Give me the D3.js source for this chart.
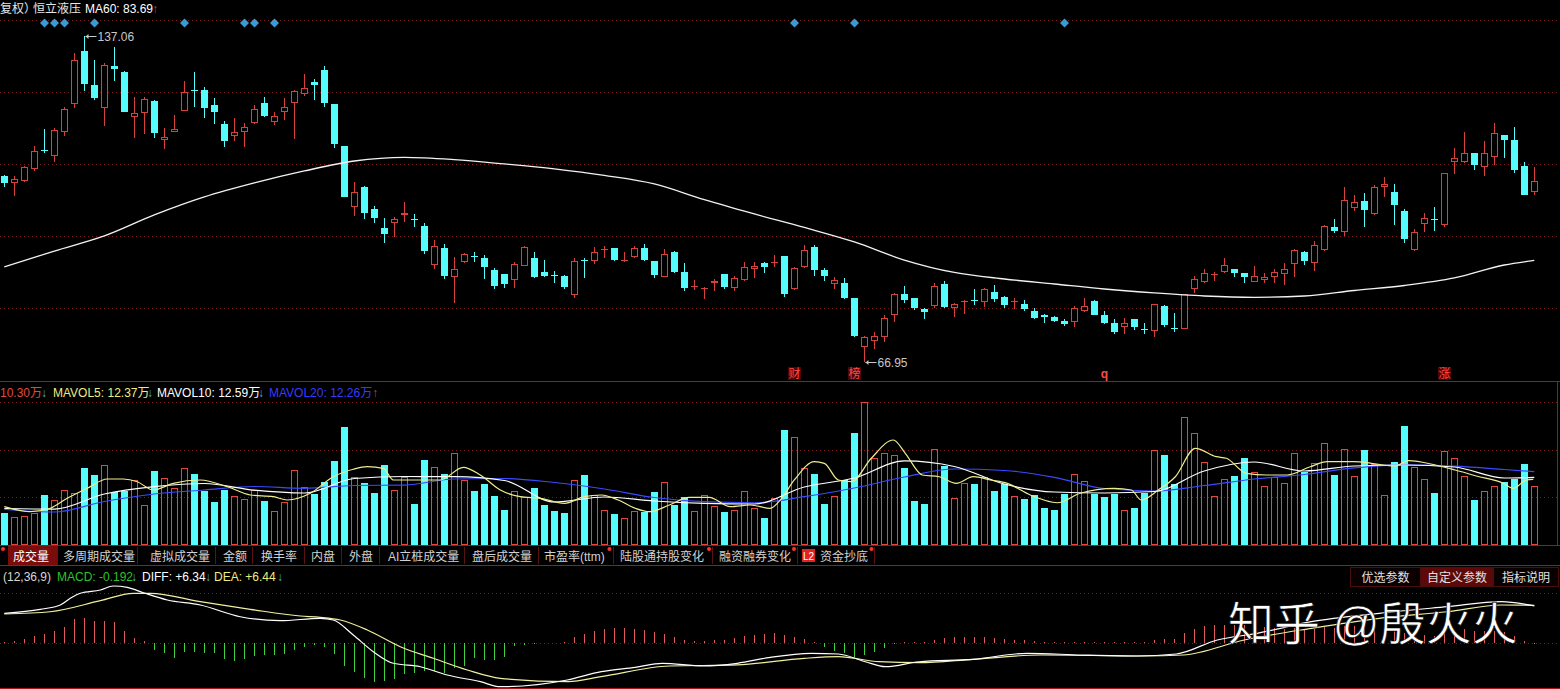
<!DOCTYPE html>
<html><head><meta charset="utf-8">
<script src="https://cdn.jsdelivr.net/npm/d3@7"></script>
<style>
html,body{margin:0;padding:0;background:#000;overflow:hidden;}
svg{display:block;}
text{font-family:"Liberation Sans","Noto Sans CJK SC",sans-serif;}
</style></head><body>
<script>
// ---------------- DATA ----------------
const openP = [100.77,99.29,99.73,102.40,106.75,105.36,111.07,117.97,132.62,123.08,
116.93,128.41,126.65,114.64,115.65,118.90,109.05,110.92,116.31,121.80,
121.72,117.70,112.96,110.10,110.92,113.14,118.21,113.53,116.06,118.21,
120.58,123.81,127.20,117.97,107.63,94.19,98.43,93.71,89.82,90.81,
92.55,91.72,90.28,82.86,85.95,80.76,83.46,84.45,84.09,81.95,
81.18,80.17,82.73,84.09,81.54,81.00,80.89,77.58,83.80,83.64,
85.70,85.95,83.64,84.27,85.95,83.59,80.76,85.20,81.54,79.15,
78.70,79.59,81.18,78.83,80.17,82.08,83.17,83.40,84.51,78.55,
82.55,86.26,81.95,79.42,79.59,77.01,69.24,70.16,70.69,74.24,
77.75,77.01,75.18,75.77,79.47,75.34,76.50,76.72,76.43,78.14,
77.18,76.52,76.05,74.90,74.24,73.86,73.26,73.06,74.94,76.55,
74.24,72.90,72.26,73.53,72.02,71.67,75.72,72.18,71.99,78.55,
79.77,81.15,81.65,82.08,81.36,79.87,80.17,80.65,81.23,83.04,
85.20,83.28,85.63,90.01,89.15,93.98,95.43,92.63,98.43,97.22,
93.30,85.63,90.61,91.65,90.48,103.98,103.98,105.92,102.71,104.99,
110.27,109.05,103.01,97.22];
const highP = [100.9,100.77,103.01,107.63,111.65,111.90,117.34,131.96,137.06,130.02,
129.26,133.71,126.92,119.79,119.79,119.08,111.90,115.22,124.16,126.56,
122.45,119.53,113.70,114.38,113.14,117.78,119.79,116.06,119.53,121.60,
126.09,124.62,128.33,118.00,107.70,99.51,98.58,94.33,91.82,92.14,
95.23,92.69,90.81,87.54,86.72,84.27,85.01,85.31,84.70,82.37,
81.20,83.46,86.39,85.20,83.77,81.77,81.06,84.09,84.09,86.26,
86.45,85.95,85.20,86.39,86.78,83.64,85.82,85.44,83.17,80.17,
79.00,80.35,81.20,80.94,83.46,83.35,83.46,84.70,84.55,82.55,
86.58,86.58,82.26,80.65,80.47,77.05,70.94,71.46,74.24,77.97,
79.12,77.11,75.34,79.59,80.05,76.27,76.72,78.60,78.73,79.30,
77.40,77.11,76.72,75.34,74.35,74.12,73.58,75.72,77.01,76.72,
74.94,73.53,73.70,73.58,72.90,76.05,75.89,74.52,77.75,80.89,
82.08,81.54,84.09,82.10,81.40,82.73,81.36,82.08,83.17,85.76,
85.50,87.40,90.48,91.67,98.30,96.64,97.00,98.80,100.63,99.01,
93.71,89.68,92.84,94.06,101.40,107.08,110.92,105.95,108.81,113.14,
110.30,112.30,103.85,102.85];
const lowP = [98.30,96.50,99.51,101.95,105.92,103.98,110.10,116.93,121.54,119.08,
112.54,124.24,115.90,109.46,110.51,109.46,106.92,110.87,116.20,117.34,
114.53,112.89,107.46,108.88,107.46,113.00,114.64,112.72,113.95,109.29,
120.14,119.08,117.34,107.09,96.20,92.34,91.67,90.81,87.02,88.18,
91.13,90.01,84.83,82.13,80.30,76.17,83.28,83.35,80.30,78.55,
78.83,78.83,82.70,80.58,80.76,79.59,78.60,77.01,80.58,83.04,
84.09,83.50,83.46,84.09,83.64,80.47,80.65,81.50,78.26,78.43,
76.89,78.26,78.55,78.26,80.05,80.58,81.36,82.44,77.18,78.43,
82.37,80.89,79.99,78.60,76.89,70.80,66.95,68.85,70.01,73.15,
76.17,75.06,73.58,75.44,75.34,73.86,74.35,75.89,75.61,76.43,
75.34,75.18,74.94,73.58,72.90,73.06,72.51,72.35,74.68,74.20,
72.78,71.16,71.21,71.83,71.21,70.78,72.35,71.46,71.95,77.87,
79.59,79.99,81.36,80.76,79.70,79.85,79.70,79.70,79.30,80.76,
82.86,81.82,85.44,88.96,88.31,93.36,90.14,92.49,96.16,90.48,
87.02,85.50,89.15,89.34,90.14,101.15,103.62,102.10,100.83,103.24,
104.90,101.50,96.60,96.64];
const closeP = [99.29,100.04,102.85,106.45,106.68,111.48,116.75,130.02,123.26,119.69,
128.61,127.39,116.06,115.65,119.34,110.68,109.86,111.73,121.11,121.72,
117.08,116.06,108.88,111.07,112.30,116.75,114.97,115.04,117.18,121.54,
122.18,123.08,118.38,108.10,96.28,97.22,92.95,91.94,88.70,91.67,
92.95,91.67,85.50,86.45,80.94,82.08,84.89,84.39,82.55,79.18,
79.47,83.04,86.14,80.76,80.94,80.94,79.00,83.59,83.77,85.20,
85.76,83.77,83.70,85.95,83.77,81.06,84.89,81.54,78.83,79.18,
78.73,79.99,79.00,80.58,82.44,82.68,82.55,83.46,77.75,82.31,
85.63,81.95,80.94,80.17,77.11,70.89,70.69,70.89,73.70,77.75,
76.72,75.34,74.68,79.12,75.51,76.01,76.55,76.68,78.60,76.89,
75.89,76.55,75.23,73.80,73.86,73.31,72.74,75.34,75.72,74.24,
72.99,71.56,72.99,72.26,71.98,76.01,72.63,72.15,77.70,80.35,
81.36,81.18,82.90,81.46,80.76,80.94,80.65,81.54,82.08,85.63,
83.64,86.58,90.28,89.34,95.58,95.10,93.50,98.30,99.01,94.54,
87.73,89.03,91.82,91.61,101.37,104.90,105.92,103.24,105.92,110.68,
109.05,102.10,96.64,99.66];
// volume in 万 shares
const volume = [5.53,4.94,5.06,5.53,8.73,7.86,9.60,9.03,13.50,12.22,
13.97,9.31,9.48,11.35,6.98,12.92,11.65,9.90,13.39,12.40,
9.48,7.56,9.60,8.56,8.03,9.60,7.73,5.94,7.46,13.09,
10.07,8.90,11.05,14.67,20.65,11.82,10.88,9.13,13.97,9.60,
11.92,7.16,14.84,13.56,12.34,16.01,11.35,9.43,10.65,8.56,
6.11,9.43,8.33,10.00,6.98,5.94,5.59,11.35,12.22,8.73,
6.11,5.41,4.66,5.94,5.81,9.25,11.00,6.98,8.33,5.94,
8.68,6.81,5.76,6.11,9.43,6.51,4.71,8.15,20.08,18.80,
13.44,12.40,7.16,8.56,11.35,19.61,24.91,15.14,16.01,15.66,
13.44,7.73,7.16,16.71,13.79,8.15,10.77,10.65,11.92,9.48,
10.60,8.56,8.08,8.78,6.46,6.11,8.85,12.34,11.17,8.85,
8.43,8.85,6.11,6.46,9.03,16.59,15.71,10.65,22.29,19.50,
14.49,8.56,11.47,12.05,15.19,12.74,10.30,11.82,10.77,16.01,
12.74,14.26,17.75,12.22,16.71,12.05,16.59,14.14,8.68,14.49,
20.78,13.56,11.47,9.08,16.41,15.14,12.05,7.86,9.43,10.30,
11.00,11.47,14.14,10.30];
// MACD histogram
const macdHist = [0.17,0.29,0.57,1.15,1.5,2.07,2.76,4.09,4.19,3.74,
3.79,3.62,2.07,0.86,0.29,-1.26,-1.72,-2.71,-1.55,-1.55,
-1.84,-1.84,-2.88,-3.10,-2.88,-2.29,-2.12,-2.12,-1.95,-1.26,
-0.69,-0.40,-0.81,-1.95,-4.02,-5.0,-6.16,-6.72,-6.55,-6.33,
-5.47,-5.17,-4.88,-4.83,-5.17,-4.43,-4.02,-2.71,-2.98,-2.98,
-2.41,-0.6,-0.35,-0.2,-0.1,-0.05,0.05,0.9,1.5,2.0,
2.4,2.5,2.5,2.4,2.2,1.8,1.5,1.0,0.5,0.3,
0.3,0.4,0.5,0.8,1.2,1.4,1.5,1.6,1.3,1.0,
0.6,0.1,-0.8,-1.4,-1.8,-2.4,-2.2,-1.6,-0.9,-0.2,
0.1,0.1,0.05,0.4,0.8,0.9,0.9,1.0,0.9,0.8,
0.7,0.5,0.4,0.3,0.2,0.1,0.05,0.1,0.2,0.2,
0.1,0.05,0.05,0.05,0.05,0.5,0.6,0.6,1.6,2.4,
2.8,3.0,3.1,3.1,3.0,2.9,2.7,2.5,2.4,2.5,
2.4,2.4,2.7,2.6,2.9,2.8,2.5,2.6,2.5,2.2,
1.6,1.3,1.3,1.2,1.8,2.1,2.3,2.1,2.0,2.1,
1.9,1.2,0.3,-0.19];
// indicator lines sampled at these candle indices
const lineIdx = [0,5,10,15,20,25,30,35,40,45,50,55,60,65,70,75,80,85,90,95,100,105,110,115,120,125,130,135,140,145,150,153];
const ma60 = [82.50,85.44,88.32,92.49,96.22,99.23,101.88,104.14,104.99,104.46,103.46,102.33,100.88,99.01,95.64,92.69,89.98,87.16,83.77,81.51,80.35,79.47,78.60,77.92,77.40,77.18,77.40,78.34,79.21,80.53,82.86,83.69];
const mavol10 = [6.37,6.28,8.90,10.18,10.74,9.57,9.08,11.61,11.96,11.92,11.26,7.51,8.38,7.68,7.28,7.16,10.13,11.70,14.67,13.70,10.65,9.25,9.08,9.34,12.92,14.49,12.92,13.79,13.97,13.62,11.70,11.82];
const mavol20 = [6.20,5.76,7.59,8.90,9.60,10.21,9.90,10.39,10.47,11.52,11.61,10.91,9.78,8.29,7.56,7.38,8.43,9.95,11.87,13.27,13.01,11.82,9.86,9.43,10.39,11.52,12.31,13.48,14.00,13.76,13.18,12.80];
// MAVOL5 read at its own (candle-position) samples
const mavol5Idx = [0,2.6,4.6,6.3,8.3,10.3,11.9,13.3,14.9,16.9,19.6,22.3,24.6,26.9,28.3,30.6,32.9,34.9,36.3,37.9,38.9,41.6,43.6,45.9,47.6,49.6,51.6,53.6,56,58,59.7,61.4,63.1,64.5,66.5,68.5,70.5,72.6,74.6,76.6,77.6,79,81,82,83.4,84.7,86.7,88.9,90.1,91.8,93.5,95.2,96.9,98.6,100.3,102.6,105.3,107.6,111,112.7,113.7,115.4,117.1,119.1,121.2,122.2,124.2,126.2,128.3,130.6,132.3,135,136.7,139.1,140.4,143.1,145.1,147.2,149.9,150.9,152.2,152.9];
const mavol5 = [6.69,5.81,6.41,8.15,9.90,11.52,11.52,11.05,9.60,10.77,11.35,10.18,8.73,8.43,7.86,9.03,11.92,13.22,13.67,13.39,11.35,11.35,11.35,13.56,12.22,9.60,8.43,8.15,7.28,8.43,8.73,7.86,6.41,5.81,6.98,8.33,8.33,6.69,6.98,6.41,7.86,11.35,14.54,14.26,11.35,11.05,15.14,18.33,16.01,12.22,11.92,10.77,11.92,11.35,10.77,8.73,7.38,9.03,9.90,9.60,7.86,9.60,11.92,16.88,15.42,15.14,12.52,12.22,12.22,13.67,14.54,14.54,14.26,13.79,14.72,13.97,13.09,12.05,10.77,9.90,11.35,11.47];
// MACD DIFF / DEA read at candle positions
const diffIdx = [0,3.6,5.6,6.6,7.6,9.6,10.9,12.3,13.9,16.3,19.6,23.6,27.6,31.6,32.9,34.9,36.9,38.9,41.6,44.3,47.6,49.6,56.3,59.7,63.1,65.8,69.9,73.3,76.6,80.7,83.4,86.1,88.1,91.5,96.9,102.3,107.7,113.2,117.2,121.3,125.3,130.7,137.5,144.3,149.7,153];
const diffLine = [5.07,5.76,6.50,7.66,8.52,9.09,9.78,9.55,8.62,7.36,6.50,4.48,3.79,4.21,3.91,1.33,-1.55,-3.55,-4.14,-5.57,-6.72,-7.59,-6.43,-5.00,-4.24,-3.55,-4.02,-3.55,-2.52,-1.83,-1.95,-3.28,-4.14,-3.28,-2.86,-1.83,-2.12,-2.29,-1.95,0.47,1.62,3.62,5.07,6.21,7.07,6.34];
const deaIdx = [0,4.6,9.6,12.9,14.6,19.6,24.6,29.6,31.6,33.6,36.3,39.6,42.9,46.3,49.6,56.4,59.7,66.5,73.3,80,83.4,87.5,91.5,96.9,103.7,113.8,117.9,124,130.7,137.5,144.3,149.7,153];
const deaLine = [4.95,5.34,7.24,8.52,8.52,7.07,5.76,4.60,4.38,3.91,2.19,-0.69,-2.69,-4.71,-6.14,-6.72,-5.86,-4.02,-3.84,-2.69,-2.41,-3.28,-3.45,-2.86,-2.12,-2.29,-2.12,0.47,2.48,4.21,5.34,6.50,6.44];
// grid levels
const priceGrid = [141.97,121.19,103.45,88.31,75.39];
const volGrid = [8.3,16.6,24.9];
const macdGrid = [8.57,0];
// markers
const diamondIdx = [4,5,6,9,18,24,25,27,79,85,106];
const eventLabels = [{i:79,t:"财"},{i:85,t:"榜"},{i:110,t:"q"},{i:144,t:"涨"}];
const tabNames = ["成交量","多周期成交量","虚拟成交量","金额","换手率","内盘","外盘","AI立桩成交量","盘后成交量","市盈率(ttm)","陆股通持股变化","融资融券变化","资金抄底"];
const buttonNames = ["优选参数","自定义参数","指标说明"];

// ---------------- DRAW ----------------
const W=1560,H=689;
const RED="#d8403a", VRED="#e8443c", CYAN="#54fcfc", GRID="#7a1a1a", BORDER="#a4161a";
const svg=d3.select("body").append("svg").attr("width",W).attr("height",H).style("background","#000");
const n=openP.length;
const x=d3.scaleLinear().domain([0,n-1]).range([4.3,1534.3]);
const yP=d3.scaleLog().domain([66.95,137.06]).range([362,36]);
const yV=d3.scaleLinear().domain([0,25]).range([545,401.8]);
const yM=d3.scaleLinear().domain([-8,10]).range([642.7+8*5.8,642.7-10*5.8]);
const cx=i=>Math.round(x(i));

// grids
const g0=svg.append("g");
g0.selectAll(".pg").data(priceGrid).join("line").attr("x1",0).attr("x2",W)
 .attr("y1",d=>Math.round(yP(d))+0.5).attr("y2",d=>Math.round(yP(d))+0.5)
 .attr("stroke",GRID).attr("stroke-dasharray","1,3");
g0.selectAll(".vg").data(volGrid).join("line").attr("x1",0).attr("x2",W)
 .attr("y1",d=>Math.round(yV(d))+0.5).attr("y2",d=>Math.round(yV(d))+0.5)
 .attr("stroke",GRID).attr("stroke-dasharray","1,3");
g0.selectAll(".mg").data(macdGrid).join("line").attr("x1",0).attr("x2",W)
 .attr("y1",d=>Math.round(yM(d))+0.5).attr("y2",d=>Math.round(yM(d))+0.5)
 .attr("stroke",GRID).attr("stroke-dasharray","1,3");

// panel borders
[381.5,545.5,565.5,688.5].forEach(y=>svg.append("line").attr("x1",0).attr("x2",W).attr("y1",y).attr("y2",y).attr("stroke",BORDER));
svg.append("line").attr("x1",1557.5).attr("x2",1557.5).attr("y1",382).attr("y2",545).attr("stroke",BORDER);

// header text main
const hdr=svg.append("text").attr("y",13).attr("font-size",12);
hdr.append("tspan").attr("x",0).attr("fill","#e6e6e6").text("复权）");
hdr.append("tspan").attr("x",33).attr("fill","#e6e6e6").text("恒立液压");
hdr.append("tspan").attr("x",85).attr("fill","#ffffff").text("MA60: 83.69");
hdr.append("tspan").attr("x",152).attr("fill","#e03030").text("↑");

// diamonds
svg.selectAll(".dm").data(diamondIdx).join("path")
 .attr("d","M0,-4.5L4.5,0L0,4.5L-4.5,0Z")
 .attr("transform",d=>`translate(${cx(d)+0.5},23)`).attr("fill","#3a9ad4");

// candles
const candles=svg.append("g").attr("shape-rendering","crispEdges");
for(let i=0;i<n;i++){
  const o=openP[i],c=closeP[i],h=highP[i],l=lowP[i];
  const up=c>=o; const col=up?RED:CYAN;
  const X=cx(i);
  const yT=Math.round(yP(Math.max(o,c))), yB=Math.round(yP(Math.min(o,c)));
  const yH=Math.round(yP(h)), yL=Math.round(yP(l));
  if(yH<yT) candles.append("line").attr("x1",X+0.5).attr("x2",X+0.5).attr("y1",yH).attr("y2",yT).attr("stroke",col);
  if(yL>yB) candles.append("line").attr("x1",X+0.5).attr("x2",X+0.5).attr("y1",yB).attr("y2",yL).attr("stroke",col);
  if(yB-yT<2){
    candles.append("line").attr("x1",X-3).attr("x2",X+4).attr("y1",yT+0.5).attr("y2",yT+0.5).attr("stroke",col);
  } else if(up){
    candles.append("rect").attr("x",X-2.5).attr("y",yT+0.5).attr("width",6).attr("height",yB-yT-1).attr("fill","#000").attr("stroke",col);
  } else {
    candles.append("rect").attr("x",X-3).attr("y",yT).attr("width",7).attr("height",yB-yT).attr("fill",col);
  }
}

// line helper
const lineGen=(yS,arr,idx)=>d3.line().x((d,k)=>x((idx||lineIdx)[k])).y(d=>yS(d)).curve(d3.curveMonotoneX)(arr);
svg.append("path").attr("d",lineGen(yP,ma60)).attr("fill","none").attr("stroke","#f2f2f2").attr("stroke-width",1.3);

// high / low labels
function extLabel(i,p,txt){
  const X=cx(i)+1.5, Y=Math.round(yP(p))+0.5;
  svg.append("line").attr("x1",X).attr("x2",X+11).attr("y1",Y).attr("y2",Y).attr("stroke","#c8c8c8");
  svg.append("path").attr("d",`M${X},${Y} l3,-2.5 l0,5 z`).attr("fill","#c8c8c8");
  svg.append("text").attr("x",X+12).attr("y",Y+4.5).attr("font-size",12).attr("fill","#c8c8c8").text(txt);
}
extLabel(8,137.06,"137.06");
extLabel(86,66.95,"66.95");

// event labels
eventLabels.forEach(e=>{
  const X=cx(e.i);
  if(e.t!=="q") svg.append("rect").attr("x",X-6).attr("y",367).attr("width",13).attr("height",13).attr("fill","#4a0606");
  svg.append("text").attr("x",X+0.5).attr("y",378).attr("text-anchor","middle").attr("font-size",12)
   .attr("font-weight",e.t==="q"?"bold":"normal").attr("fill","#ff4a4a").text(e.t);
});

// volume header
const vh=svg.append("text").attr("y",397).attr("font-size",12);
vh.append("tspan").attr("x",0).attr("fill","#e04a3c").text("10.30万");
vh.append("tspan").attr("x",41).attr("fill","#46b8c0").text("↓");
vh.append("tspan").attr("x",53).attr("fill","#eded80").text("MAVOL5: 12.37万");
vh.append("tspan").attr("x",147).attr("fill","#46b8c0").text("↓");
vh.append("tspan").attr("x",157).attr("fill","#ffffff").text("MAVOL10: 12.59万");
vh.append("tspan").attr("x",258).attr("fill","#46b8c0").text("↓");
vh.append("tspan").attr("x",269).attr("fill","#3a3aff").text("MAVOL20: 12.26万");
vh.append("tspan").attr("x",372).attr("fill","#e03030").text("↑");

// volume bars
const vg=svg.append("g").attr("shape-rendering","crispEdges");
for(let i=0;i<n;i++){
  const up=closeP[i]>=openP[i]; const X=cx(i);
  const yt=Math.round(yV(volume[i])), yb=545;
  if(up) vg.append("rect").attr("x",X-2.5).attr("y",yt+0.5).attr("width",6).attr("height",yb-yt-1).attr("fill","none").attr("stroke",VRED);
  else vg.append("rect").attr("x",X-3).attr("y",yt).attr("width",7).attr("height",yb-yt).attr("fill",CYAN);
}
svg.append("path").attr("d",lineGen(yV,mavol20)).attr("fill","none").attr("stroke","#3a4aff").attr("stroke-width",1.2);
svg.append("path").attr("d",lineGen(yV,mavol10)).attr("fill","none").attr("stroke","#ffffff").attr("stroke-width",1.2);
svg.append("path").attr("d",lineGen(yV,mavol5,mavol5Idx)).attr("fill","none").attr("stroke","#eded90").attr("stroke-width",1.2);

// tab bar
const tabX=[13,63,150,223,261,311,349,388,472,544,620,719,820];
const sepX=[57.5,137.5,215.5,252.5,304.5,341.5,379.5,464.5,538.5,613.5,712.5,797.5,874.5];
svg.append("rect").attr("x",8).attr("y",546).attr("width",50).attr("height",19).attr("fill","#7a0c0c");
sepX.forEach(s=>svg.append("line").attr("x1",s).attr("x2",s).attr("y1",547).attr("y2",564).attr("stroke","#5a1212"));
tabNames.forEach((t,k)=>svg.append("text").attr("x",tabX[k]).attr("y",561).attr("font-size",12)
  .attr("fill",k===0?"#ffffff":"#d2d2d2").text(t));
[3,609.5,709,794,871.5].forEach(d=>svg.append("circle").attr("cx",d).attr("cy",549).attr("r",2).attr("fill","#ff3030"));
svg.append("rect").attr("x",802).attr("y",549).attr("width",13).attr("height",13).attr("fill","#e02424");
svg.append("text").attr("x",808.5).attr("y",559.5).attr("text-anchor","middle").attr("font-size",10).attr("fill","#fff").text("L2");

// MACD header
const mh=svg.append("text").attr("y",581).attr("font-size",12);
mh.append("tspan").attr("x",3).attr("fill","#d8d8d8").text("(12,36,9)");
mh.append("tspan").attr("x",57).attr("fill","#2ec22e").text("MACD: -0.192");
mh.append("tspan").attr("x",131).attr("fill","#46b8c0").text("↓");
mh.append("tspan").attr("x",142).attr("fill","#ffffff").text("DIFF: +6.34");
mh.append("tspan").attr("x",205).attr("fill","#46b8c0").text("↓");
mh.append("tspan").attr("x",214).attr("fill","#eded80").text("DEA: +6.44");
mh.append("tspan").attr("x",277).attr("fill","#46b8c0").text("↓");

// buttons
const btnX=[1350,1421,1493], btnW=[70,71,65];
buttonNames.forEach((b,k)=>{
  svg.append("rect").attr("x",btnX[k]+0.5).attr("y",567.5).attr("width",btnW[k]).attr("height",19)
   .attr("fill",k===1?"#5e0808":"#0a0000").attr("stroke","#4a0e0e");
  svg.append("text").attr("x",btnX[k]+btnW[k]/2+0.5).attr("y",582).attr("text-anchor","middle")
   .attr("font-size",12).attr("fill","#e0e0e0").text(b);
});

// MACD histogram
const mg=svg.append("g").attr("shape-rendering","crispEdges");
macdHist.forEach((v,i)=>{
  const X=cx(i)+0.5;
  mg.append("line").attr("x1",X).attr("x2",X).attr("y1",yM(0)).attr("y2",yM(v))
   .attr("stroke",v>=0?"#e05a5a":"#3ed23e");
});
svg.append("path").attr("d",lineGen(yM,deaLine,deaIdx)).attr("fill","none").attr("stroke","#f0f0a0").attr("stroke-width",1.2);
svg.append("path").attr("d",lineGen(yM,diffLine,diffIdx)).attr("fill","none").attr("stroke","#ffffff").attr("stroke-width",1.2);

// watermark
svg.append("text").attr("x",1228).attr("y",640).attr("font-size",46)
 .attr("font-family","'Noto Sans CJK SC',sans-serif").attr("fill","#ffffff")
 .attr("stroke","#000").attr("stroke-width",0.6).text("知乎 @殷火火");
</script>
</body></html>
